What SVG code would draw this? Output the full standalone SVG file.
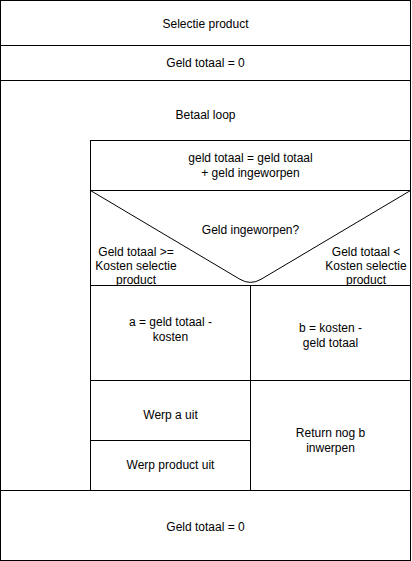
<svg xmlns="http://www.w3.org/2000/svg" width="412" height="561" viewBox="0 0 412 561">
<style>
.b{fill:#fff;stroke:#000;stroke-width:1}
.l{fill:none;stroke:#000;stroke-width:1}
text{font-family:"Liberation Sans",Arial,sans-serif;font-size:12px;fill:#000;text-anchor:middle}
</style>
<rect width="412" height="561" fill="#fff"/>
<g id="selectie">
<rect class="b" x="0.5" y="0.5" width="410" height="45"/>
<text x="205.5" y="28">Selectie product</text>
</g>
<g id="init">
<rect class="b" x="0.5" y="45.5" width="410" height="35"/>
<text x="205.5" y="67">Geld totaal = 0</text>
</g>
<g id="loop">
<rect class="b" x="0.5" y="80.5" width="410" height="410"/>
<text x="205.5" y="119">Betaal loop</text>
</g>
<g id="optellen">
<rect class="b" x="90.5" y="140.5" width="320" height="50"/>
<text x="250.5" y="162">geld totaal = geld totaal</text>
<text x="250.5" y="177">+ geld ingeworpen</text>
</g>
<g id="beslissing">
<rect class="b" x="90.5" y="190.5" width="320" height="95"/>
<path class="l" d="M90.5,190.5 L240,279.3 Q250.5,285.5 261,279.3 L410.5,190.5"/>
<text x="250.5" y="234">Geld ingeworpen?</text>
<text x="136" y="256">Geld totaal &gt;=</text>
<text x="136" y="270">Kosten selectie</text>
<text x="136" y="284">product</text>
<text x="366" y="256">Geld totaal &lt;</text>
<text x="366" y="270">Kosten selectie</text>
<text x="366" y="284">product</text>
</g>
<g id="a-berekenen">
<rect class="b" x="90.5" y="285.5" width="160" height="95"/>
<text x="170.5" y="326">a = geld totaal -</text>
<text x="170.5" y="341">kosten</text>
</g>
<g id="b-berekenen">
<rect class="b" x="250.5" y="285.5" width="160" height="95"/>
<text x="330.5" y="332">b = kosten -</text>
<text x="330.5" y="347">geld totaal</text>
</g>
<g id="werp-a">
<rect class="b" x="90.5" y="380.5" width="160" height="60"/>
<text x="170.5" y="419">Werp a uit</text>
</g>
<g id="werp-product">
<rect class="b" x="90.5" y="440.5" width="160" height="50"/>
<text x="170.5" y="469">Werp product uit</text>
</g>
<g id="return-b">
<rect class="b" x="250.5" y="380.5" width="160" height="110"/>
<text x="330.5" y="437">Return nog b</text>
<text x="330.5" y="452">inwerpen</text>
</g>
<g id="reset">
<rect class="b" x="0.5" y="490.5" width="410" height="70"/>
<text x="205.5" y="531">Geld totaal = 0</text>
</g>
<g id="connectors"></g>
</svg>
